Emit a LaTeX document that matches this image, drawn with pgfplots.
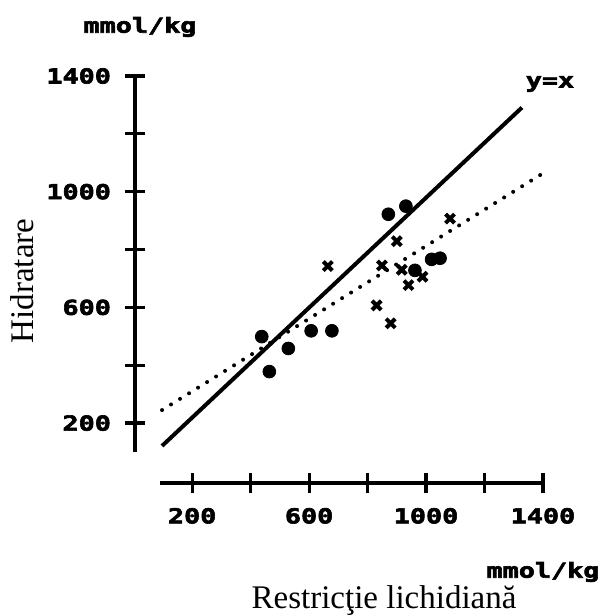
\documentclass[border=0pt]{standalone}
\usepackage{fontspec}
\setmainfont{Liberation Serif}
\newfontfamily\dotfont{DejaVu Sans Mono Bold}[FakeStretch=1.3, FakeBold=3]
\usepackage{pgfplots}
\pgfplotsset{compat=1.18}

\newcommand{\dotsize}{\dotfont\fontsize{10.3}{11}\selectfont}

\begin{document}
\begin{tikzpicture}
\begin{axis}[
    at={(0,0)}, anchor=south west,
    scale only axis,
    width=191.5pt, height=188pt,
    xmin=90, xmax=1400, ymin=100, ymax=1400,
    axis lines=left,
    axis line style={line width=2.2pt, -},
    axis x line shift=15.5pt,
    axis y line shift=12.5pt,
    xtick={200,400,...,1400},
    xticklabels={200,,600,,1000,,1400},
    ytick={200,400,...,1400},
    yticklabels={200,,600,,1000,,1400},
    tick align=center,
    major tick length=10pt,
    tick style={line width=1.6pt, black},
    /pgf/number format/assume math mode=true,
    ticklabel style={font=\dotsize},
    xticklabel style={yshift=-4pt},
    yticklabel style={xshift=-3.5pt},
    clip=false,
]
% y = x
\addplot[line width=2pt] coordinates {(97,121) (1328,1291)};
% regression line
\addplot[line width=2pt, line cap=round, dash pattern=on 0pt off 5.3pt]
    coordinates {(97,245) (1410,1070)};
% circles
\addplot[only marks, mark=*, mark size=3.2pt] coordinates {
    (871,922) (931,950) (438,499) (529,458) (464,378)
    (607,519) (678,519) (1019,766) (1048,770) (962,728)
};
% crosses
\addplot[only marks, mark=x, mark size=3.2pt, line width=2pt] coordinates {
    (664,743) (900,829) (1082,907) (849,745) (917,730)
    (988,706) (940,677) (831,607) (879,545)
};
\end{axis}
\node[font=\dotsize] at (-10pt,212.5pt) {mmol/kg};
\node[font=\dotsize] at (195pt,184pt) {y=x};
\node[font=\dotsize] at (191.5pt,-60pt) {mmol/kg};
\node[font=\fontsize{16.5}{18}\selectfont, anchor=base] at (112pt,-78pt) {Restricţie lichidiană};
\node[font=\fontsize{16.5}{18}\selectfont, rotate=90] at (-69pt,85.5pt) {Hidratare};
\pgfresetboundingbox
\path[use as bounding box] (-80pt,-82pt) rectangle (222.5pt,226pt);
\end{tikzpicture}
\end{document}
